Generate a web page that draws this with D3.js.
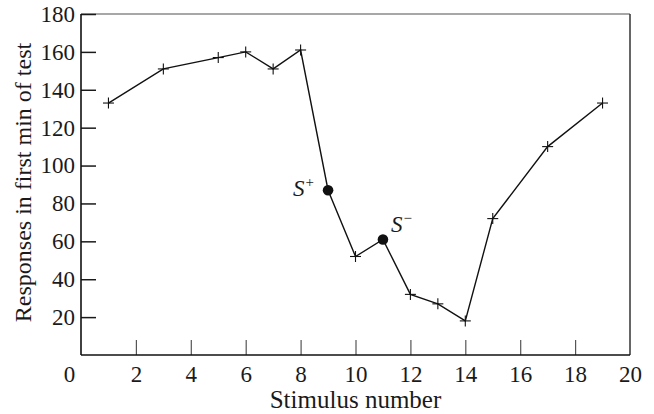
<!DOCTYPE html>
<html>
<head>
<meta charset="utf-8">
<script src="https://cdn.jsdelivr.net/npm/d3@7"></script>
<style>
  html, body { margin: 0; padding: 0; background: #fff; }
  svg { display: block; }
  text { font-family: "Liberation Serif", "Times New Roman", serif; fill: #1a1a1a; }
</style>
</head>
<body>
<svg id="chart" width="654" height="414"></svg>
<script>
// Generalization gradient: responses per stimulus in the first minute of the test
const stimulus  = [1, 3, 5, 6, 7, 8, 9, 10, 11, 12, 13, 14, 15, 17, 19];
const responses = [133, 151, 157, 160, 151, 161, 87, 52, 61, 32, 27, 18, 72, 110, 133];
// Stimuli used in training, drawn as filled dots with labels
const trainedStimuli = [9, 11];
const trainedLabels  = [{ sup: "+" }, { sup: "\u2212" }];

const xTicks = [0, 2, 4, 6, 8, 10, 12, 14, 16, 18, 20];
const yTicks = [20, 40, 60, 80, 100, 120, 140, 160, 180];

const svg = d3.select("#chart");
const m = { left: 81, right: 24, top: 14, bottom: 59 };
const W = 654, H = 414;

const x = d3.scaleLinear().domain([0, 20]).range([m.left, W - m.right]);
const y = d3.scaleLinear().domain([0, 180]).range([H - m.bottom, m.top]);

// frame: black left/bottom axes, lighter top/right borders
svg.append("line").attr("x1", x(0)).attr("x2", x(20)).attr("y1", y(180)).attr("y2", y(180))
  .attr("stroke", "#8a8a8a").attr("stroke-width", 1.5);
svg.append("line").attr("x1", x(20)).attr("x2", x(20)).attr("y1", y(180)).attr("y2", y(0))
  .attr("stroke", "#333").attr("stroke-width", 1.5);

const tickFont = 23;

// y axis, ticks pointing inward
const gy = svg.append("g").attr("transform", `translate(${x(0)},0)`)
  .call(d3.axisLeft(y).tickValues(yTicks).tickSize(-15).tickPadding(6));
gy.select(".domain").remove();
gy.selectAll(".tick line").attr("stroke", "#1a1a1a").attr("stroke-width", 1.5);
gy.selectAll(".tick text").attr("font-size", tickFont).attr("font-family", null).attr("fill", "#1a1a1a");

// x axis, ticks pointing inward
const gx = svg.append("g").attr("transform", `translate(0,${y(0)})`)
  .call(d3.axisBottom(x).tickValues(xTicks).tickSize(-15).tickPadding(11));
gx.select(".domain").remove();
gx.selectAll(".tick line").attr("stroke", "#555").attr("stroke-width", 1.2)
  .attr("display", d => (d === 0 || d === 20) ? "none" : null);
gx.selectAll(".tick text").attr("font-size", tickFont).attr("font-family", null).attr("fill", "#1a1a1a")
  .attr("dx", d => d === 0 ? -12 : 0);

svg.append("line").attr("x1", x(0)).attr("x2", x(0)).attr("y1", y(180)).attr("y2", y(0))
  .attr("stroke", "#111").attr("stroke-width", 1.6);
svg.append("line").attr("x1", x(0)).attr("x2", x(20)).attr("y1", y(0)).attr("y2", y(0))
  .attr("stroke", "#111").attr("stroke-width", 1.6);

// axis titles
svg.append("text").attr("x", x(10)).attr("y", 408).attr("text-anchor", "middle")
  .attr("font-size", 25).text("Stimulus number");
svg.append("text").attr("transform", `translate(31,${(y(0) + y(180)) / 2 - 2}) rotate(-90)`)
  .attr("text-anchor", "middle").attr("font-size", 24).text("Responses in first min of test");

// data
const data = stimulus.map((s, i) => ({ s, r: responses[i], trained: trainedStimuli.includes(s) }));

svg.append("path").datum(data)
  .attr("fill", "none").attr("stroke", "#111").attr("stroke-width", 1.4)
  .attr("d", d3.line().x(d => x(d.s)).y(d => y(d.r)));

const half = 5.5;
data.filter(d => !d.trained).forEach(d => {
  const g = svg.append("g").attr("transform", `translate(${x(d.s)},${y(d.r)})`);
  g.append("line").attr("x1", -half).attr("x2", half).attr("stroke", "#111").attr("stroke-width", 1.1);
  g.append("line").attr("y1", -half).attr("y2", half).attr("stroke", "#111").attr("stroke-width", 1.1);
});

svg.selectAll("circle.trained").data(data.filter(d => d.trained)).join("circle")
  .attr("class", "trained").attr("cx", d => x(d.s)).attr("cy", d => y(d.r)).attr("r", 5.3)
  .attr("fill", "#111");

// S+ sits to the left of its dot, S− above-right of its dot
const labelPos = [
  { dx: -35, dy: 6 },
  { dx: 8, dy: -7 }
];
trainedStimuli.forEach((s, i) => {
  const r = responses[stimulus.indexOf(s)];
  const t = svg.append("text")
    .attr("x", x(s) + labelPos[i].dx).attr("y", y(r) + labelPos[i].dy)
    .attr("font-size", 23).attr("font-style", "italic");
  t.append("tspan").text("S");
  t.append("tspan").attr("font-style", "normal").attr("font-size", 15).attr("dy", -9).attr("dx", 1)
    .text(trainedLabels[i].sup);
});
</script>
</body>
</html>
